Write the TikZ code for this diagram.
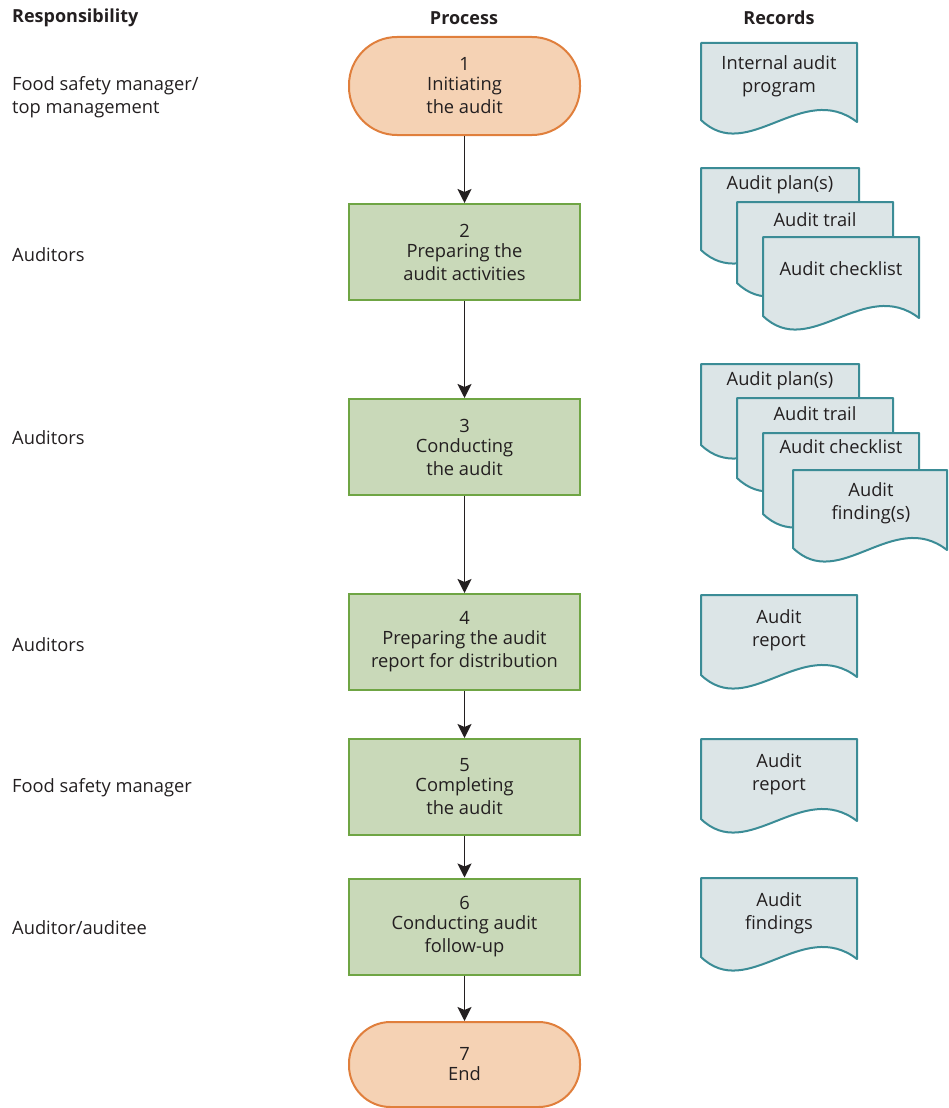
\documentclass[tikz,border=0pt]{standalone}
\usepackage{fontspec}
\setmainfont{Open Sans}
\usetikzlibrary{arrows.meta}
\definecolor{termfill}{HTML}{F5D2B4}
\definecolor{termdraw}{HTML}{E07F3C}
\definecolor{procfill}{HTML}{C9D9B9}
\definecolor{procdraw}{HTML}{6FA544}
\definecolor{docfill}{HTML}{DCE5E7}
\definecolor{docdraw}{HTML}{3B8C96}
\definecolor{ink}{HTML}{231F20}
\newcommand\docshape[4]{% x y w h
  \filldraw[docstyle] (#1,#2) -- (#1+#3,#2) -- (#1+#3,#2+#4+2)
    .. controls (#1+0.65*#3,#2+#4-40) and (#1+0.3*#3,#2+#4+45) .. (#1,#2+#4) -- cycle;}
\begin{document}
\begin{tikzpicture}[x=1pt,y=-1pt,
  txt/.style={font=\fontsize{18.3}{23}\selectfont, text=ink, align=center, inner sep=0pt},
  head/.style={font=\fontsize{18}{22}\selectfont\bfseries, text=ink, inner sep=0pt},
  resp/.style={txt, align=left, anchor=west},
  term/.style={txt, draw=termdraw, fill=termfill, line width=2pt,
     minimum width=231pt},
  proc/.style={txt, draw=procdraw, fill=procfill, line width=2pt,
     minimum width=231pt, minimum height=96pt},
  docstyle/.style={draw=docdraw, fill=docfill, line width=2pt, line join=round},
  arr/.style={draw=ink, line width=1.8pt, -{Stealth[length=14pt,width=14pt,inset=3pt]}}
]
\useasboundingbox (0,0) rectangle (948,1108);

% headers
\node[head, anchor=west] (hr) at (12,18) {Responsibility};
\node[head] (hp) at (464,18) {Process};
\node[head] (hc) at (779,18) {Records};

% process column
\node[term, minimum height=98pt, rounded corners=48pt] (p1) at (464.5,86) {1\\[-3pt]Initiating\\the audit};
\node[proc] (p2) at (464.5,252) {2\\[-3pt]Preparing the\\audit activities};
\node[proc] (p3) at (464.5,447) {3\\[-3pt]Conducting\\the audit};
\node[proc] (p4) at (464.5,642) {4\\[-3pt]Preparing the audit\\report for distribution};
\node[proc] (p5) at (464.5,787) {5\\[-3pt]Completing\\the audit};
\node[proc] (p6) at (464.5,926.5) {6\\[-3pt]Conducting audit\\follow-up};
\node[term, minimum height=85pt, rounded corners=41.5pt] (p7) at (464.5,1064.5) {7\\[-3pt]End};

\draw[arr] (p1) -- (p2);
\draw[arr] (p2) -- (p3);
\draw[arr] (p3) -- (p4);
\draw[arr] (p4) -- (p5);
\draw[arr] (p5) -- (p6);
\draw[arr] (p6) -- (p7);

% responsibility
\node[resp] (r1) at (12,97) {Food safety manager/\\top management};
\node[resp] (r2) at (12,255) {Auditors};
\node[resp] (r3) at (12,438) {Auditors};
\node[resp] (r4) at (12,645) {Auditors};
\node[resp] (r5) at (12,788) {Food safety manager};
\node[resp] (r6) at (12,928) {Auditor/auditee};

% records
\docshape{701}{43}{156}{77}
\node[txt] (d1) at (779,76) {Internal audit\\program};

\docshape{701}{168}{158}{82}
\node[txt] (d2a) at (780,185) {Audit plan(s)};
\docshape{737}{202}{156}{81}
\node[txt] (d2b) at (815,220) {Audit trail};
\docshape{763}{237}{156}{79}
\node[txt] (d2c) at (841,269) {Audit checklist};

\docshape{701}{364}{158}{81}
\node[txt] (d3a) at (780,381) {Audit plan(s)};
\docshape{737}{398}{156}{80}
\node[txt] (d3b) at (815,414) {Audit trail};
\docshape{763}{433}{156}{81}
\node[txt] (d3c) at (841,447) {Audit checklist};
\docshape{793}{470}{154}{78}
\node[txt] (d3d) at (871,503) {Audit\\finding(s)};

\docshape{701}{595}{156}{80}
\node[txt] (d4) at (779,630) {Audit\\report};
\docshape{701}{739}{156}{80}
\node[txt] (d5) at (779,774) {Audit\\report};
\docshape{701}{878}{156}{79}
\node[txt] (d6) at (779,913) {Audit\\findings};
\end{tikzpicture}
\end{document}
